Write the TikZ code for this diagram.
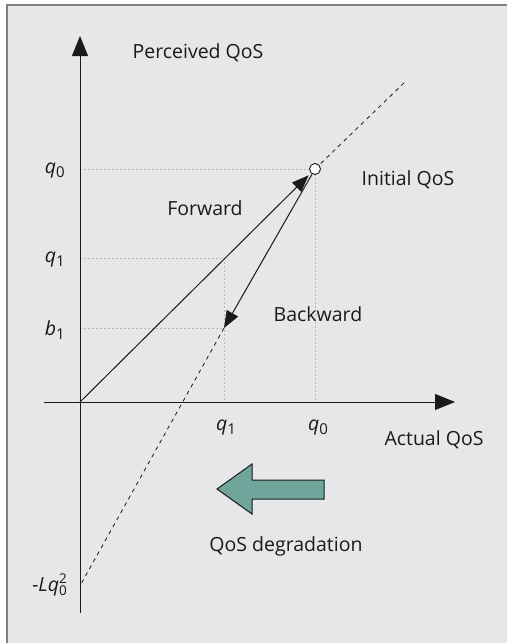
\documentclass[tikz,border=0pt]{standalone}
\usepackage{fontspec}
\setmainfont{Open Sans}
\usetikzlibrary{arrows.meta}
\definecolor{bgc}{HTML}{E6E7E9}
\definecolor{framec}{HTML}{808080}
\definecolor{gridc}{HTML}{B8B8B8}
\definecolor{tealc}{HTML}{6FA59B}
\definecolor{inkc}{HTML}{1A1A1A}
\newcommand{\qsub}[2]{{\itshape #1}\raisebox{-0.35ex}{\fontsize{15}{15}\selectfont #2}}
\newcommand{\lqsq}{{\itshape -Lq}\rlap{\raisebox{0.75ex}{\fontsize{13.5}{13.5}\selectfont 2}}\raisebox{-0.4ex}{\fontsize{13.5}{13.5}\selectfont 0}}
\begin{document}
\begin{tikzpicture}[x=1pt,y=-1pt,
  lbl/.style={inner sep=0pt,font=\fontsize{19.5}{21}\selectfont,text=inkc},
  axisline/.style={draw=inkc,line width=1pt},
  gridline/.style={draw=gridc,line width=0.8pt,dash pattern=on 2pt off 2pt},
  curve/.style={draw=inkc,line width=1pt},
  dashcurve/.style={draw=inkc,line width=0.8pt,dash pattern=on 4pt off 4pt},
  bigtip/.style={-{Triangle[length=20pt,width=16pt]}},
  tip/.style={-{Triangle[length=17pt,width=13pt]}}]
\useasboundingbox (0,0) rectangle (507,643);
\fill[bgc] (7,5) rectangle (507,643);
\draw[framec,line width=1.2pt] (7,643) -- (7,5) -- (507,5);
% coordinates
\coordinate (O) at (80,402);
\coordinate (ytop) at (80,36);
\coordinate (ybot) at (80,613);
\coordinate (xleft) at (44,402);
\coordinate (xright) at (455,402);
\coordinate (Q0) at (315,169);
\coordinate (Q0y) at (80,169);
\coordinate (Q0x) at (315,402);
\coordinate (B1) at (224,328);
\coordinate (B1y) at (80,328);
\coordinate (Q1) at (224,258);
\coordinate (Q1y) at (80,258);
\coordinate (Q1x) at (224,402);
\coordinate (Dtop) at (406,81);
\coordinate (Lq) at (81,584);
% grid lines
\draw[gridline] (Q0y) -- (Q0) -- (Q0x);
\draw[gridline] (Q1y) -- (Q1) -- (Q1x);
\draw[gridline] (B1y) -- (B1);
% axes
\draw[axisline,bigtip] (ybot) -- (ytop);
\draw[axisline,bigtip] (xleft) -- (xright);
% dashed lines
\draw[dashcurve] (Q0) -- (Dtop);
\draw[dashcurve] (B1) -- (Lq);
% circle
\node[circle,draw=inkc,fill=white,line width=0.9pt,minimum size=11pt,inner sep=0pt] (C) at (Q0) {};
% forward / backward
\draw[curve,tip,shorten >=3pt] (O) -- (C);
\draw[curve,tip] (C) -- (B1);
% big arrow
\draw[draw=inkc,fill=tealc,line width=1pt] (217,489) -- (252,464) -- (252,480) -- (324,480) -- (324,499) -- (252,499) -- (252,514) -- cycle;
% labels
\node[lbl] (tperc) at (198,53) {Perceived QoS};
\node[lbl] (tinit) at (408,180) {Initial QoS};
\node[lbl] (tfwd) at (205,208) {Forward};
\node[lbl] (tbwd) at (318,314) {Backward};
\node[lbl] (tact) at (434,440) {Actual QoS};
\node[lbl] (tdeg) at (286,546) {QoS degradation};
\node[lbl,anchor=east] (lq0) at (65,171) {\qsub{q}{0}};
\node[lbl,anchor=east] (lq1) at (65,260) {\qsub{q}{1}};
\node[lbl,anchor=east] (lb1) at (65,330) {\qsub{b}{1}};
\node[lbl] (xq1) at (226,428) {\qsub{q}{1}};
\node[lbl] (xq0) at (318,428) {\qsub{q}{0}};
\node[lbl,anchor=east] (llq) at (67,585) {\lqsq};
\end{tikzpicture}
\end{document}
